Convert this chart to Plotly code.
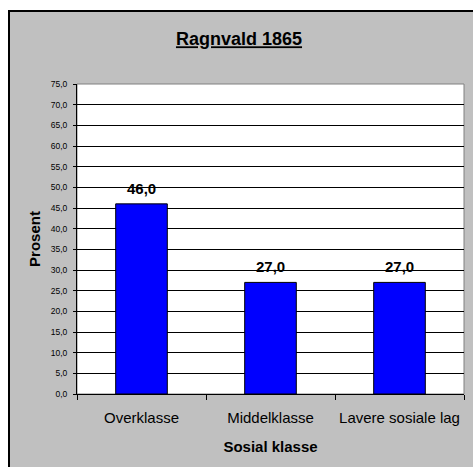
import plotly.graph_objects as go

categories = ["Overklasse", "Middelklasse", "Lavere sosiale lag"]
values = [46.0, 27.0, 27.0]
title_text = "Ragnvald 1865"
x_title = "Sosial klasse"
y_title = "Prosent"

W, H = 473, 467
L, R, T, B = 77, 464, 84, 394
FONT = "Liberation Sans, Arial, sans-serif"


def px(x):
    return (x - L) / (R - L)


def py(y):
    return (B - y) / (B - T)


fig = go.Figure()
fig.add_trace(go.Bar(
    x=categories, y=values, width=0.4,
    marker=dict(color="#0000ff", line=dict(color="#000000", width=1)),
    hoverinfo="skip",
))

for c, v in zip(categories, values):
    fig.add_annotation(
        x=c, y=v, xref="x", yref="y", yanchor="bottom",
        text="<b>" + f"{v:.1f}".replace(".", ",") + "</b>",
        showarrow=False, yshift=5,
        font=dict(family=FONT, size=15, color="#000000"),
    )

shapes = [
    dict(type="rect", xref="paper", yref="paper", layer="below",
         x0=px(9), x1=px(530), y0=py(530), y1=py(11),
         fillcolor="#c0c0c0", line=dict(color="#000000", width=2)),
    dict(type="rect", xref="paper", yref="paper", layer="below",
         x0=0, x1=1, y0=0, y1=1,
         fillcolor="#ffffff", line=dict(color="#808080", width=1)),
]

fig.update_layout(
    width=W, height=H,
    margin=dict(l=L, r=W - R, t=T, b=H - B, pad=0, autoexpand=False),
    paper_bgcolor="#ffffff",
    plot_bgcolor="#ffffff",
    separators=", ",
    showlegend=False,
    shapes=shapes,
    bargap=0.6,
    title=dict(
        text="<b><u>" + title_text + "</u></b>",
        x=239 / W, xanchor="center", xref="container",
        y=1 - 39 / H, yanchor="middle", yref="container",
        font=dict(family=FONT, size=18, color="#000000"),
        automargin=False,
    ),
    font=dict(family=FONT, color="#000000"),
    xaxis=dict(
        type="category",
        showgrid=False,
        showline=True, linecolor="#000000", linewidth=1,
        ticks="outside", tickson="boundaries", ticklen=5,
        tickcolor="#000000", tickangle=0,
        tickfont=dict(family=FONT, size=15, color="#000000"),
        ticklabelstandoff=10,
        automargin=False,
        title=dict(text="<b>" + x_title + "</b>", standoff=16,
                   font=dict(family=FONT, size=15, color="#000000")),
        fixedrange=True,
    ),
    yaxis=dict(
        range=[0, 75], dtick=5, tickformat=".1f",
        showgrid=True, gridcolor="#000000", gridwidth=1,
        showline=True, linecolor="#000000", linewidth=1,
        ticks="outside", ticklen=3, tickcolor="#000000",
        tickfont=dict(family=FONT, size=8.5, color="#000000"),
        ticklabelstandoff=4,
        zeroline=False,
        automargin=False,
        title=dict(text="<b>" + y_title + "</b>", standoff=6,
                   font=dict(family=FONT, size=15, color="#000000")),
        fixedrange=True,
    ),
)

fig.write_html(
    "out.html",
    config={"displayModeBar": False},
    post_script="document.body.style.margin='0px';document.body.style.overflow='hidden';",
)
